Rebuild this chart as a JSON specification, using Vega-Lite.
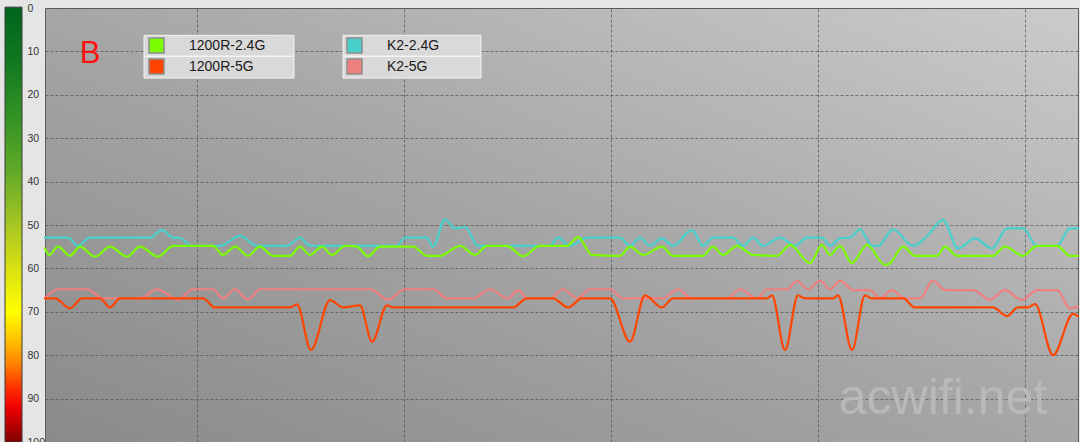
{
  "$schema": "https://vega.github.io/schema/vega-lite/v6.json",
  "width": 1033,
  "height": 434,
  "autosize": {"type": "none"},
  "padding": {"left": 45, "top": 8, "right": 2, "bottom": 0},
  "background": "#e5e5e5",
  "view": {
    "fill": {"gradient": "linear", "x1": 0, "y1": 1, "x2": 1, "y2": 0,
      "stops": [{"offset": 0, "color": "#8a8a8a"}, {"offset": 0.5, "color": "#a6a6a6"}, {"offset": 1, "color": "#cbcbcb"}]},
    "stroke": "#5e5e5e",
    "strokeWidth": 1
  },
  "config": {"font": "Liberation Sans"},
  "data": {"values": [
    {"s":"K2-2.4G","t":0,"v":52.9},{"s":"K2-2.4G","t":23,"v":52.9},{"s":"K2-2.4G","t":33,"v":54.8},{"s":"K2-2.4G","t":45,"v":52.9},{"s":"K2-2.4G","t":105,"v":52.9},{"s":"K2-2.4G","t":117,"v":51.2},{"s":"K2-2.4G","t":128,"v":52.9},{"s":"K2-2.4G","t":135,"v":53.0},{"s":"K2-2.4G","t":147,"v":54.8},{"s":"K2-2.4G","t":175,"v":54.8},{"s":"K2-2.4G","t":195,"v":52.5},{"s":"K2-2.4G","t":212,"v":54.8},{"s":"K2-2.4G","t":242,"v":54.8},{"s":"K2-2.4G","t":255,"v":52.9},{"s":"K2-2.4G","t":265,"v":54.8},{"s":"K2-2.4G","t":352,"v":54.8},{"s":"K2-2.4G","t":360,"v":52.9},{"s":"K2-2.4G","t":382,"v":52.9},{"s":"K2-2.4G","t":388,"v":55.0},{"s":"K2-2.4G","t":400,"v":48.7},{"s":"K2-2.4G","t":410,"v":50.8},{"s":"K2-2.4G","t":420,"v":50.4},{"s":"K2-2.4G","t":433,"v":54.8},{"s":"K2-2.4G","t":505,"v":54.8},{"s":"K2-2.4G","t":513,"v":52.9},{"s":"K2-2.4G","t":525,"v":54.8},{"s":"K2-2.4G","t":542,"v":52.9},{"s":"K2-2.4G","t":575,"v":52.9},{"s":"K2-2.4G","t":585,"v":54.8},{"s":"K2-2.4G","t":595,"v":52.9},{"s":"K2-2.4G","t":605,"v":54.8},{"s":"K2-2.4G","t":617,"v":53.1},{"s":"K2-2.4G","t":628,"v":54.8},{"s":"K2-2.4G","t":647,"v":51.2},{"s":"K2-2.4G","t":658,"v":54.8},{"s":"K2-2.4G","t":668,"v":52.9},{"s":"K2-2.4G","t":688,"v":52.9},{"s":"K2-2.4G","t":698,"v":54.8},{"s":"K2-2.4G","t":708,"v":52.9},{"s":"K2-2.4G","t":718,"v":54.8},{"s":"K2-2.4G","t":735,"v":52.9},{"s":"K2-2.4G","t":750,"v":54.8},{"s":"K2-2.4G","t":762,"v":52.9},{"s":"K2-2.4G","t":777,"v":52.9},{"s":"K2-2.4G","t":785,"v":54.8},{"s":"K2-2.4G","t":795,"v":53.1},{"s":"K2-2.4G","t":805,"v":52.9},{"s":"K2-2.4G","t":815,"v":51.0},{"s":"K2-2.4G","t":827,"v":54.8},{"s":"K2-2.4G","t":833,"v":54.8},{"s":"K2-2.4G","t":848,"v":51.0},{"s":"K2-2.4G","t":868,"v":54.8},{"s":"K2-2.4G","t":882,"v":52.6},{"s":"K2-2.4G","t":898,"v":48.8},{"s":"K2-2.4G","t":913,"v":55.4},{"s":"K2-2.4G","t":930,"v":53.1},{"s":"K2-2.4G","t":947,"v":55.4},{"s":"K2-2.4G","t":962,"v":50.8},{"s":"K2-2.4G","t":978,"v":50.8},{"s":"K2-2.4G","t":992,"v":54.8},{"s":"K2-2.4G","t":1012,"v":54.8},{"s":"K2-2.4G","t":1025,"v":50.8},{"s":"K2-2.4G","t":1033,"v":50.8},
    {"s":"1200R-2.4G","t":0,"v":55.4},{"s":"1200R-2.4G","t":4,"v":56.9},{"s":"1200R-2.4G","t":13,"v":55.0},{"s":"1200R-2.4G","t":25,"v":57.1},{"s":"1200R-2.4G","t":35,"v":55.0},{"s":"1200R-2.4G","t":50,"v":57.3},{"s":"1200R-2.4G","t":65,"v":55.0},{"s":"1200R-2.4G","t":82,"v":57.3},{"s":"1200R-2.4G","t":95,"v":55.0},{"s":"1200R-2.4G","t":113,"v":57.3},{"s":"1200R-2.4G","t":128,"v":54.8},{"s":"1200R-2.4G","t":168,"v":54.8},{"s":"1200R-2.4G","t":178,"v":56.9},{"s":"1200R-2.4G","t":190,"v":55.0},{"s":"1200R-2.4G","t":203,"v":57.1},{"s":"1200R-2.4G","t":215,"v":55.0},{"s":"1200R-2.4G","t":228,"v":57.1},{"s":"1200R-2.4G","t":245,"v":57.1},{"s":"1200R-2.4G","t":255,"v":55.0},{"s":"1200R-2.4G","t":265,"v":56.9},{"s":"1200R-2.4G","t":277,"v":55.0},{"s":"1200R-2.4G","t":287,"v":56.9},{"s":"1200R-2.4G","t":300,"v":54.8},{"s":"1200R-2.4G","t":312,"v":55.0},{"s":"1200R-2.4G","t":323,"v":57.2},{"s":"1200R-2.4G","t":335,"v":55.0},{"s":"1200R-2.4G","t":368,"v":55.0},{"s":"1200R-2.4G","t":382,"v":57.1},{"s":"1200R-2.4G","t":395,"v":57.1},{"s":"1200R-2.4G","t":415,"v":54.8},{"s":"1200R-2.4G","t":430,"v":56.9},{"s":"1200R-2.4G","t":442,"v":54.8},{"s":"1200R-2.4G","t":462,"v":54.8},{"s":"1200R-2.4G","t":478,"v":57.2},{"s":"1200R-2.4G","t":495,"v":54.8},{"s":"1200R-2.4G","t":522,"v":54.8},{"s":"1200R-2.4G","t":533,"v":52.8},{"s":"1200R-2.4G","t":547,"v":56.9},{"s":"1200R-2.4G","t":575,"v":57.1},{"s":"1200R-2.4G","t":585,"v":55.0},{"s":"1200R-2.4G","t":598,"v":56.9},{"s":"1200R-2.4G","t":617,"v":55.0},{"s":"1200R-2.4G","t":628,"v":57.1},{"s":"1200R-2.4G","t":658,"v":57.1},{"s":"1200R-2.4G","t":668,"v":55.0},{"s":"1200R-2.4G","t":678,"v":56.9},{"s":"1200R-2.4G","t":692,"v":54.8},{"s":"1200R-2.4G","t":708,"v":56.9},{"s":"1200R-2.4G","t":732,"v":57.1},{"s":"1200R-2.4G","t":745,"v":54.6},{"s":"1200R-2.4G","t":765,"v":58.8},{"s":"1200R-2.4G","t":777,"v":54.6},{"s":"1200R-2.4G","t":785,"v":56.9},{"s":"1200R-2.4G","t":795,"v":54.8},{"s":"1200R-2.4G","t":807,"v":58.8},{"s":"1200R-2.4G","t":822,"v":54.6},{"s":"1200R-2.4G","t":840,"v":59.2},{"s":"1200R-2.4G","t":845,"v":58.8},{"s":"1200R-2.4G","t":858,"v":55.0},{"s":"1200R-2.4G","t":870,"v":57.1},{"s":"1200R-2.4G","t":892,"v":57.1},{"s":"1200R-2.4G","t":900,"v":55.0},{"s":"1200R-2.4G","t":912,"v":57.1},{"s":"1200R-2.4G","t":948,"v":57.1},{"s":"1200R-2.4G","t":960,"v":55.0},{"s":"1200R-2.4G","t":978,"v":57.1},{"s":"1200R-2.4G","t":992,"v":54.8},{"s":"1200R-2.4G","t":1012,"v":54.8},{"s":"1200R-2.4G","t":1025,"v":57.1},{"s":"1200R-2.4G","t":1033,"v":57.1},
    {"s":"K2-5G","t":0,"v":66.9},{"s":"K2-5G","t":13,"v":64.8},{"s":"K2-5G","t":43,"v":64.8},{"s":"K2-5G","t":57,"v":66.9},{"s":"K2-5G","t":95,"v":66.9},{"s":"K2-5G","t":112,"v":64.8},{"s":"K2-5G","t":133,"v":67.2},{"s":"K2-5G","t":148,"v":64.8},{"s":"K2-5G","t":168,"v":64.8},{"s":"K2-5G","t":178,"v":66.9},{"s":"K2-5G","t":190,"v":64.8},{"s":"K2-5G","t":203,"v":67.2},{"s":"K2-5G","t":215,"v":64.8},{"s":"K2-5G","t":325,"v":64.8},{"s":"K2-5G","t":343,"v":67.2},{"s":"K2-5G","t":360,"v":64.8},{"s":"K2-5G","t":388,"v":64.8},{"s":"K2-5G","t":402,"v":66.9},{"s":"K2-5G","t":428,"v":66.9},{"s":"K2-5G","t":445,"v":64.8},{"s":"K2-5G","t":463,"v":66.9},{"s":"K2-5G","t":473,"v":65.0},{"s":"K2-5G","t":482,"v":66.9},{"s":"K2-5G","t":505,"v":66.9},{"s":"K2-5G","t":518,"v":64.8},{"s":"K2-5G","t":532,"v":66.9},{"s":"K2-5G","t":545,"v":64.8},{"s":"K2-5G","t":565,"v":64.8},{"s":"K2-5G","t":578,"v":66.9},{"s":"K2-5G","t":618,"v":66.9},{"s":"K2-5G","t":633,"v":64.8},{"s":"K2-5G","t":647,"v":66.9},{"s":"K2-5G","t":682,"v":66.9},{"s":"K2-5G","t":695,"v":64.8},{"s":"K2-5G","t":712,"v":66.9},{"s":"K2-5G","t":722,"v":64.8},{"s":"K2-5G","t":742,"v":64.8},{"s":"K2-5G","t":752,"v":62.9},{"s":"K2-5G","t":763,"v":64.8},{"s":"K2-5G","t":775,"v":62.8},{"s":"K2-5G","t":785,"v":64.8},{"s":"K2-5G","t":795,"v":62.8},{"s":"K2-5G","t":808,"v":65.0},{"s":"K2-5G","t":825,"v":65.0},{"s":"K2-5G","t":835,"v":66.9},{"s":"K2-5G","t":847,"v":65.0},{"s":"K2-5G","t":860,"v":66.9},{"s":"K2-5G","t":875,"v":66.9},{"s":"K2-5G","t":888,"v":62.8},{"s":"K2-5G","t":900,"v":65.0},{"s":"K2-5G","t":928,"v":65.0},{"s":"K2-5G","t":945,"v":67.2},{"s":"K2-5G","t":960,"v":65.0},{"s":"K2-5G","t":977,"v":67.3},{"s":"K2-5G","t":992,"v":65.0},{"s":"K2-5G","t":1012,"v":65.0},{"s":"K2-5G","t":1025,"v":69.2},{"s":"K2-5G","t":1033,"v":68.8},
    {"s":"1200R-5G","t":0,"v":66.9},{"s":"1200R-5G","t":10,"v":66.9},{"s":"1200R-5G","t":25,"v":69.2},{"s":"1200R-5G","t":37,"v":66.9},{"s":"1200R-5G","t":55,"v":66.9},{"s":"1200R-5G","t":65,"v":69.0},{"s":"1200R-5G","t":75,"v":66.9},{"s":"1200R-5G","t":158,"v":66.9},{"s":"1200R-5G","t":170,"v":69.0},{"s":"1200R-5G","t":245,"v":69.0},{"s":"1200R-5G","t":252,"v":68.3},{"s":"1200R-5G","t":266,"v":78.8},{"s":"1200R-5G","t":285,"v":67.3},{"s":"1200R-5G","t":298,"v":69.0},{"s":"1200R-5G","t":315,"v":68.5},{"s":"1200R-5G","t":327,"v":76.9},{"s":"1200R-5G","t":342,"v":68.5},{"s":"1200R-5G","t":348,"v":69.0},{"s":"1200R-5G","t":468,"v":69.0},{"s":"1200R-5G","t":482,"v":66.9},{"s":"1200R-5G","t":508,"v":66.9},{"s":"1200R-5G","t":523,"v":69.0},{"s":"1200R-5G","t":537,"v":66.9},{"s":"1200R-5G","t":565,"v":66.9},{"s":"1200R-5G","t":585,"v":76.9},{"s":"1200R-5G","t":600,"v":66.2},{"s":"1200R-5G","t":617,"v":69.0},{"s":"1200R-5G","t":628,"v":66.9},{"s":"1200R-5G","t":722,"v":66.9},{"s":"1200R-5G","t":727,"v":66.2},{"s":"1200R-5G","t":740,"v":78.8},{"s":"1200R-5G","t":753,"v":66.2},{"s":"1200R-5G","t":760,"v":66.9},{"s":"1200R-5G","t":788,"v":66.9},{"s":"1200R-5G","t":793,"v":66.2},{"s":"1200R-5G","t":807,"v":78.8},{"s":"1200R-5G","t":820,"v":66.2},{"s":"1200R-5G","t":827,"v":66.9},{"s":"1200R-5G","t":858,"v":66.9},{"s":"1200R-5G","t":870,"v":69.0},{"s":"1200R-5G","t":948,"v":69.0},{"s":"1200R-5G","t":962,"v":71.0},{"s":"1200R-5G","t":973,"v":69.0},{"s":"1200R-5G","t":983,"v":69.0},{"s":"1200R-5G","t":990,"v":68.2},{"s":"1200R-5G","t":1008,"v":80.0},{"s":"1200R-5G","t":1028,"v":70.5},{"s":"1200R-5G","t":1033,"v":71.0}
  ]},
  "layer": [
    {
      "data": {"values": [{}]},
      "mark": {"type": "rect", "stroke": "#3c3c3c", "strokeWidth": 1,
        "fill": {"gradient": "linear", "x1": 0, "y1": 0, "x2": 0, "y2": 1,
          "stops": [
            {"offset": 0, "color": "#00641c"},
            {"offset": 0.12, "color": "#107820"},
            {"offset": 0.25, "color": "#329224"},
            {"offset": 0.38, "color": "#62aa28"},
            {"offset": 0.5, "color": "#a6c622"},
            {"offset": 0.6, "color": "#d8e012"},
            {"offset": 0.7, "color": "#ffff00"},
            {"offset": 0.76, "color": "#ffc800"},
            {"offset": 0.82, "color": "#ff8200"},
            {"offset": 0.88, "color": "#ff2a00"},
            {"offset": 0.92, "color": "#f00000"},
            {"offset": 1, "color": "#800000"}
          ]}},
      "encoding": {
        "x": {"datum": -40, "type": "quantitative", "scale": {"domain": [0, 1033], "nice": false, "zero": false}},
        "x2": {"datum": -23},
        "y": {"datum": -0.2, "type": "quantitative", "scale": {"domain": [0, 100], "reverse": true, "nice": false, "zero": false}},
        "y2": {"datum": 100}
      }
    },
    {
      "data": {"values": [{}]},
      "mark": {"type": "rect", "fill": "#d9d9d9", "stroke": "#f2f2f2", "strokeWidth": 1},
      "encoding": {
        "x": {"datum": 99, "type": "quantitative", "scale": {"domain": [0, 1033], "nice": false, "zero": false}},
        "x2": {"datum": 249},
        "y": {"datum": 6.3, "type": "quantitative", "scale": {"domain": [0, 100], "reverse": true, "nice": false, "zero": false}},
        "y2": {"datum": 16.15}
      }
    },
    {
      "data": {"values": [{}]},
      "mark": {"type": "rect", "fill": "#d9d9d9", "stroke": "#f2f2f2", "strokeWidth": 1},
      "encoding": {
        "x": {"datum": 298, "type": "quantitative", "scale": {"domain": [0, 1033], "nice": false, "zero": false}},
        "x2": {"datum": 436},
        "y": {"datum": 6.3, "type": "quantitative", "scale": {"domain": [0, 100], "reverse": true, "nice": false, "zero": false}},
        "y2": {"datum": 16.15}
      }
    },
    {
      "data": {"values": [{}]},
      "mark": {"type": "rule", "stroke": "#f4f4f4", "strokeWidth": 1.5},
      "encoding": {
        "x": {"datum": 99, "type": "quantitative", "scale": {"domain": [0, 1033], "nice": false, "zero": false}},
        "x2": {"datum": 249},
        "y": {"datum": 11.1, "type": "quantitative", "scale": {"domain": [0, 100], "reverse": true, "nice": false, "zero": false}}
      }
    },
    {
      "data": {"values": [{}]},
      "mark": {"type": "rule", "stroke": "#f4f4f4", "strokeWidth": 1.5},
      "encoding": {
        "x": {"datum": 298, "type": "quantitative", "scale": {"domain": [0, 1033], "nice": false, "zero": false}},
        "x2": {"datum": 436},
        "y": {"datum": 11.1, "type": "quantitative", "scale": {"domain": [0, 100], "reverse": true, "nice": false, "zero": false}}
      }
    },
    {
      "mark": {"type": "line", "interpolate": "monotone", "strokeWidth": 2.2, "strokeCap": "round", "strokeJoin": "round"},
      "encoding": {
        "x": {"field": "t", "type": "quantitative", "scale": {"domain": [0, 1033], "nice": false, "zero": false},
          "axis": {"values": [152, 359, 566, 773, 980], "grid": true, "labels": false, "ticks": false, "domain": false, "title": null, "gridColor": "#555555", "gridDash": [3, 2], "gridOpacity": 0.75}},
        "y": {"field": "v", "type": "quantitative", "scale": {"domain": [0, 100], "reverse": true, "nice": false, "zero": false},
          "axis": {"values": [0,5,10,15,20,25,30,35,40,45,50,55,60,65,70,75,80,85,90,95,100], "grid": true, "ticks": false, "domain": false, "title": null,
            "labelExpr": "datum.value % 10 === 0 ? datum.label : ''", "labelAlign": "left", "labelPadding": 18, "labelFontSize": 10.5, "labelColor": "#333333",
            "labelFlush": false, "labelOverlap": false, "labelBound": false, "gridColor": "#555555", "gridDash": [3, 2], "gridOpacity": 0.75}},
        "color": {"field": "s", "type": "nominal",
          "scale": {"domain": ["K2-2.4G", "1200R-2.4G", "K2-5G", "1200R-5G"], "range": ["#48d1cc", "#7cfc00", "#f08080", "#ff4500"]},
          "legend": null}
      }
    },
    {
      "transform": [{"filter": "indexof(datum.s, '1200R') === 0"}],
      "mark": {"type": "square", "size": 100},
      "encoding": {
        "x": {"datum": 0, "type": "quantitative", "scale": {"domain": [0, 1033], "nice": false, "zero": false}},
        "y": {"datum": -300, "type": "quantitative", "scale": {"domain": [0, 100], "reverse": true, "nice": false, "zero": false}},
        "fill": {"field": "s", "type": "nominal", "scale": {"domain": ["1200R-2.4G", "1200R-5G"], "range": ["#7cfc00", "#ff4500"]},
          "legend": {"title": null, "orient": "none", "legendX": 103, "legendY": 29, "direction": "vertical", "symbolType": "square", "symbolSize": 225,
            "symbolStrokeColor": "#8c8c8c", "symbolStrokeWidth": 1.5, "symbolOpacity": 1, "labelFontSize": 14, "labelColor": "#1a1a1a", "labelOffset": 24,
            "rowPadding": 0, "padding": 0}}
      }
    },
    {
      "transform": [{"filter": "indexof(datum.s, 'K2') === 0"}],
      "mark": {"type": "square", "size": 100},
      "encoding": {
        "x": {"datum": 0, "type": "quantitative", "scale": {"domain": [0, 1033], "nice": false, "zero": false}},
        "y": {"datum": -300, "type": "quantitative", "scale": {"domain": [0, 100], "reverse": true, "nice": false, "zero": false}},
        "fill": {"field": "s", "type": "nominal", "scale": {"domain": ["K2-2.4G", "K2-5G"], "range": ["#48d1cc", "#f08080"]},
          "legend": {"title": null, "orient": "none", "legendX": 301, "legendY": 29, "direction": "vertical", "symbolType": "square", "symbolSize": 225,
            "symbolStrokeColor": "#8c8c8c", "symbolStrokeWidth": 1.5, "symbolOpacity": 1, "labelFontSize": 14, "labelColor": "#1a1a1a", "labelOffset": 24,
            "rowPadding": 0, "padding": 0}}
      }
    },
    {
      "data": {"values": [{"label": "B"}]},
      "mark": {"type": "text", "fontSize": 31, "color": "#ff1111", "align": "center", "baseline": "middle"},
      "encoding": {
        "x": {"datum": 45, "type": "quantitative", "scale": {"domain": [0, 1033], "nice": false, "zero": false}},
        "y": {"datum": 10.6, "type": "quantitative", "scale": {"domain": [0, 100], "reverse": true, "nice": false, "zero": false}},
        "text": {"field": "label"}
      }
    },
    {
      "data": {"values": [{"label": "acwifi.net"}]},
      "mark": {"type": "text", "fontSize": 50, "color": "#b9b9b9", "align": "center", "baseline": "alphabetic"},
      "encoding": {
        "x": {"datum": 898, "type": "quantitative", "scale": {"domain": [0, 1033], "nice": false, "zero": false}},
        "y": {"datum": 93.5, "type": "quantitative", "scale": {"domain": [0, 100], "reverse": true, "nice": false, "zero": false}},
        "text": {"field": "label"}
      }
    }
  ],
  "resolve": {"scale": {"fill": "independent"}}
}
